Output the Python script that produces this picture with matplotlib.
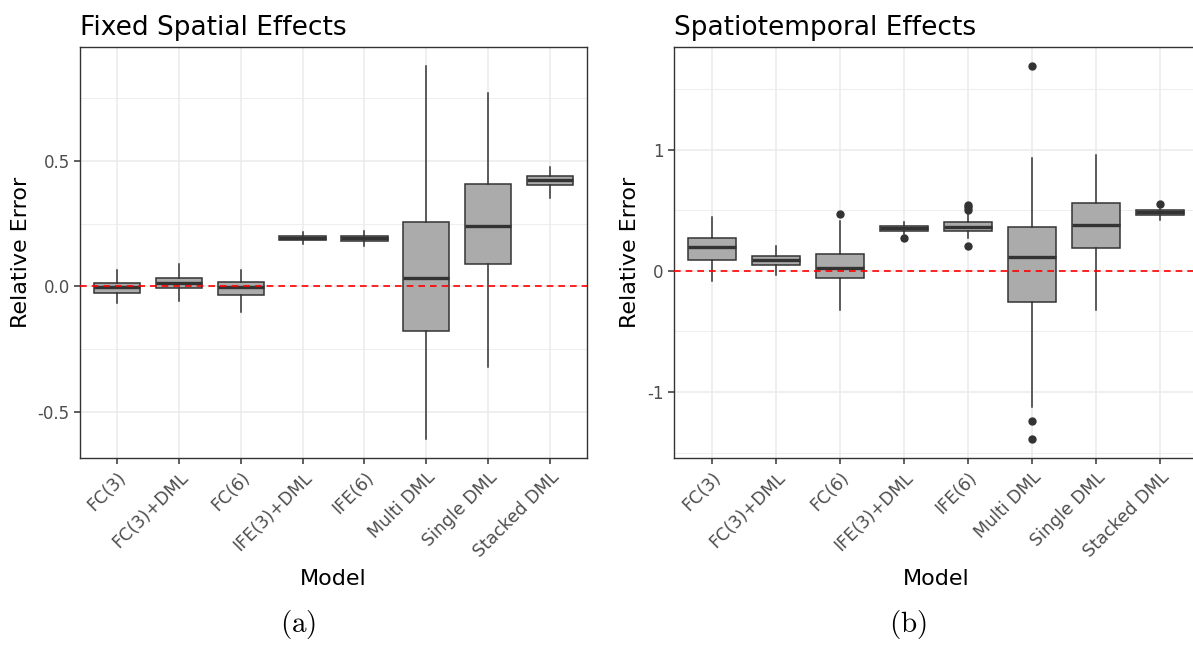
import numpy as np
import matplotlib.pyplot as plt
from matplotlib.ticker import MultipleLocator

plt.rcParams['mathtext.fontset'] = 'cm'
plt.rcParams['axes.unicode_minus'] = False

models = ["FC(3)", "FC(3)+DML", "FC(6)", "IFE(3)+DML", "IFE(6)",
          "Multi DML", "Single DML", "Stacked DML"]

# panel (a): fixed spatial effects -- box stats
a_whislo = [-0.066, -0.058, -0.103, 0.170, 0.160, -0.610, -0.321, 0.353]
a_q1     = [-0.027, -0.008, -0.033, 0.184, 0.182, -0.178, 0.090, 0.403]
a_med    = [-0.002, 0.015, -0.002, 0.194, 0.192, 0.033, 0.239, 0.422]
a_q3     = [0.015, 0.033, 0.017, 0.202, 0.200, 0.256, 0.408, 0.438]
a_whishi = [0.066, 0.088, 0.066, 0.217, 0.220, 0.879, 0.771, 0.477]
a_fliers = [[], [], [], [], [], [], [], []]

# panel (b): spatiotemporal effects
b_whislo = [-0.085, -0.036, -0.323, 0.300, 0.271, -1.126, -0.323, 0.422]
b_q1     = [0.093, 0.049, -0.058, 0.332, 0.326, -0.260, 0.186, 0.463]
b_med    = [0.200, 0.088, 0.027, 0.351, 0.364, 0.110, 0.381, 0.482]
b_q3     = [0.268, 0.120, 0.137, 0.370, 0.403, 0.359, 0.562, 0.499]
b_whishi = [0.447, 0.203, 0.414, 0.403, 0.479, 0.934, 0.951, 0.507]
b_fliers = [[], [], [0.468], [0.271], [0.542, 0.523, 0.504, 0.205],
            [1.690, -1.241, -1.389], [], [0.548]]


def make_stats(lo, q1, med, q3, hi, fl):
    stats = []
    for i in range(len(models)):
        stats.append(dict(whislo=lo[i], q1=q1[i], med=med[i], q3=q3[i],
                          whishi=hi[i], fliers=fl[i], label=models[i]))
    return stats


def draw_panel(ax, stats, title, major, minor, fmt):
    pos = np.arange(1, len(models) + 1)
    ax.bxp(stats, positions=pos, widths=0.75, patch_artist=True,
           showcaps=False, zorder=3,
           boxprops=dict(facecolor="#ABABAB", edgecolor="#333333", linewidth=1.1),
           medianprops=dict(color="#333333", linewidth=2.4),
           whiskerprops=dict(color="#333333", linewidth=1.1),
           flierprops=dict(marker="o", markersize=5, markerfacecolor="#333333",
                           markeredgecolor="#333333"))
    ax.axhline(0, color="red", linestyle=(0, (4, 3)), linewidth=1.2, zorder=4)

    # ggplot style limits with 5% / 0.6 expansion
    vals = []
    for s in stats:
        vals += [s["whislo"], s["whishi"]] + list(s["fliers"])
    lo, hi = min(vals), max(vals)
    pad = (hi - lo) * 0.05
    ax.set_ylim(lo - pad, hi + pad)
    ax.set_xlim(0.4, len(models) + 0.6)

    ax.yaxis.set_major_locator(MultipleLocator(major))
    ax.yaxis.set_minor_locator(MultipleLocator(minor))
    ax.yaxis.set_major_formatter(fmt)
    ax.grid(which="major", color="#EBEBEB", linewidth=1.1, zorder=0)
    ax.grid(which="minor", axis="y", color="#EBEBEB", linewidth=0.6, zorder=0)
    ax.set_axisbelow(True)
    ax.tick_params(axis="y", which="minor", length=0)
    ax.tick_params(which="major", length=4, width=1.1, color="#333333",
                   labelcolor="#4D4D4D", labelsize=12)
    ax.tick_params(axis="x", labelsize=12.5)

    ax.set_xticks(pos)
    ax.set_xticklabels(models, rotation=45, ha="right", rotation_mode="anchor")
    for sp in ax.spines.values():
        sp.set_color("#333333")
        sp.set_linewidth(1.0)

    ax.set_title(title, loc="left", fontsize=19, pad=9)
    ax.set_xlabel("Model", fontsize=16, labelpad=6)
    ax.set_ylabel("Relative Error", fontsize=16, labelpad=5)


fig = plt.figure(figsize=(11.93, 6.46), dpi=100)
ax1 = fig.add_axes([0.0671, 0.291, 0.4250, 0.636])
ax2 = fig.add_axes([0.5650, 0.291, 0.4392, 0.636])

draw_panel(ax1, make_stats(a_whislo, a_q1, a_med, a_q3, a_whishi, a_fliers),
           "Fixed Spatial Effects", 0.5, 0.25, "{x:.1f}")
draw_panel(ax2, make_stats(b_whislo, b_q1, b_med, b_q3, b_whishi, b_fliers),
           "Spatiotemporal Effects", 1.0, 0.5, "{x:.0f}")

fig.text(0.250, 0.022, r"$\mathrm{(a)}$", fontsize=21, ha="center")
fig.text(0.761, 0.022, r"$\mathrm{(b)}$", fontsize=21, ha="center")

fig.savefig("out.png", dpi=100)
